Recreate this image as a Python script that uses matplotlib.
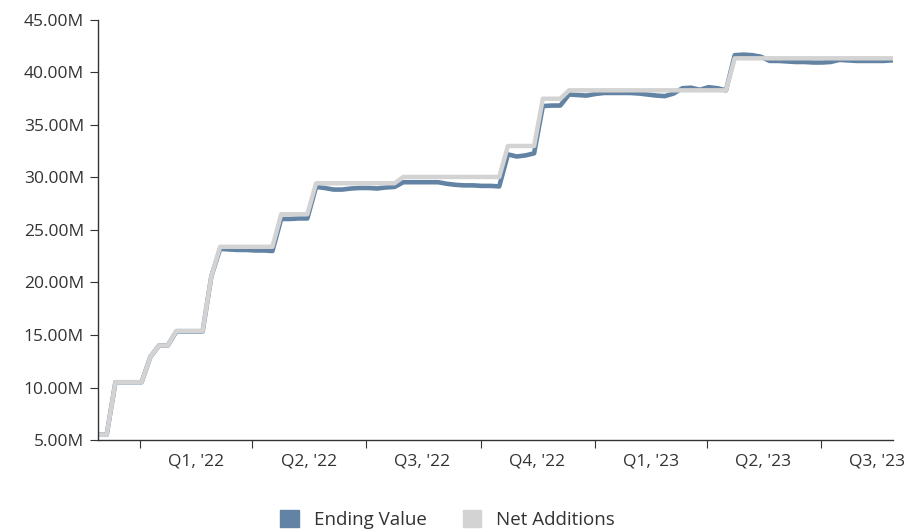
import pandas as pd
import numpy as np
import matplotlib
matplotlib.use('Agg')
import matplotlib.pyplot as plt
from matplotlib.patches import Patch
from matplotlib.ticker import FuncFormatter

plt.rcParams['font.family'] = ['Open Sans', 'DejaVu Sans']

# weekly data, millions
dates = pd.date_range('2021-11-28', '2023-08-27', freq='7D')

net_additions = [
    5.5, 5.5, 10.5, 10.5, 10.5, 10.5, 12.9, 14.0, 14.0, 15.4,
    15.4, 15.4, 15.4, 20.6, 23.4, 23.4, 23.4, 23.4, 23.4, 23.4,
    23.4, 26.5, 26.5, 26.5, 26.5, 29.45, 29.45, 29.45, 29.45, 29.45,
    29.45, 29.45, 29.45, 29.45, 29.45, 30.05, 30.05, 30.05, 30.05, 30.05,
    30.05, 30.05, 30.05, 30.05, 30.05, 30.05, 30.05, 33.0, 33.0, 33.0,
    33.0, 37.5, 37.5, 37.5, 38.3, 38.3, 38.3, 38.3, 38.3, 38.3,
    38.3, 38.3, 38.3, 38.3, 38.3, 38.3, 38.3, 38.3, 38.3, 38.3,
    38.3, 38.3, 38.3, 41.35, 41.35, 41.35, 41.35, 41.35, 41.35, 41.35,
    41.35, 41.35, 41.35, 41.35, 41.35, 41.35, 41.35, 41.35, 41.35, 41.35,
    41.35, 41.35,
]

ending_value = [
    5.5, 5.5, 10.5, 10.5, 10.5, 10.5, 12.9, 14.0, 14.0, 15.35,
    15.35, 15.35, 15.35, 20.6, 23.2, 23.15, 23.1, 23.1, 23.05, 23.05,
    23.0, 26.05, 26.05, 26.1, 26.1, 29.1, 29.0, 28.85, 28.85, 28.95,
    29.0, 29.0, 28.95, 29.05, 29.1, 29.55, 29.55, 29.55, 29.55, 29.55,
    29.4, 29.3, 29.25, 29.25, 29.2, 29.2, 29.15, 32.2, 32.0, 32.1,
    32.3, 36.8, 36.85, 36.85, 37.9, 37.85, 37.8, 37.95, 38.05, 38.05,
    38.05, 38.05, 38.0, 37.9, 37.8, 37.75, 38.0, 38.5, 38.55, 38.35,
    38.6, 38.5, 38.3, 41.65, 41.7, 41.65, 41.5, 41.1, 41.1, 41.05,
    41.0, 41.0, 40.95, 40.95, 41.0, 41.2, 41.15, 41.1, 41.1, 41.1,
    41.1, 41.15,
]

quarter_starts = pd.to_datetime(['2022-01-01', '2022-04-01', '2022-07-01', '2022-10-01',
                                 '2023-01-01', '2023-04-01', '2023-07-01'])
quarter_labels = ["Q1, '22", "Q2, '22", "Q3, '22", "Q4, '22", "Q1, '23", "Q2, '23", "Q3, '23"]

blue = '#6283a3'
grey = '#d3d3d3'
txt = '#333333'

fig = plt.figure(figsize=(9.14, 5.30), dpi=100)
ax = fig.add_axes([0.1072, 0.1698, 0.8698, 0.7925])

ax.plot(dates, ending_value, color=blue, lw=3.3, solid_joinstyle='round')
ax.plot(dates, net_additions, color=grey, lw=3.2, solid_joinstyle='round')

ax.set_ylim(5, 45)
ax.set_yticks(np.arange(5, 46, 5))
ax.yaxis.set_major_formatter(FuncFormatter(lambda v, p: '%.2fM' % v))
ax.set_xlim(dates[0], dates[-1] + pd.Timedelta(days=1))

# ticks at quarter starts, labels centred in the quarter
ax.set_xticks(quarter_starts)
ax.set_xticklabels([])
mids = quarter_starts + pd.Timedelta(days=45)
ax.set_xticks(mids, minor=True)
ax.set_xticklabels(quarter_labels, minor=True)
ax.tick_params(axis='x', which='minor', length=0, pad=10)
ax.tick_params(axis='x', which='major', length=6, color=txt)
ax.tick_params(axis='y', length=6, color=txt, pad=4)
ax.tick_params(which='both', labelsize=12.5, labelcolor=txt)

for s in ['top', 'right']:
    ax.spines[s].set_visible(False)
for s in ['left', 'bottom']:
    ax.spines[s].set_color(txt)
    ax.spines[s].set_linewidth(1)

handles = [Patch(color=blue, label='Ending Value'), Patch(color=grey, label='Net Additions')]
fig.legend(handles=handles, loc='center', bbox_to_anchor=(0.49, 0.02), ncol=2, frameon=False,
           fontsize=13.5, handlelength=1.0, handleheight=1.0, columnspacing=1.9, handletextpad=0.8,
           labelcolor=txt)

plt.savefig('out.png', dpi=100)
